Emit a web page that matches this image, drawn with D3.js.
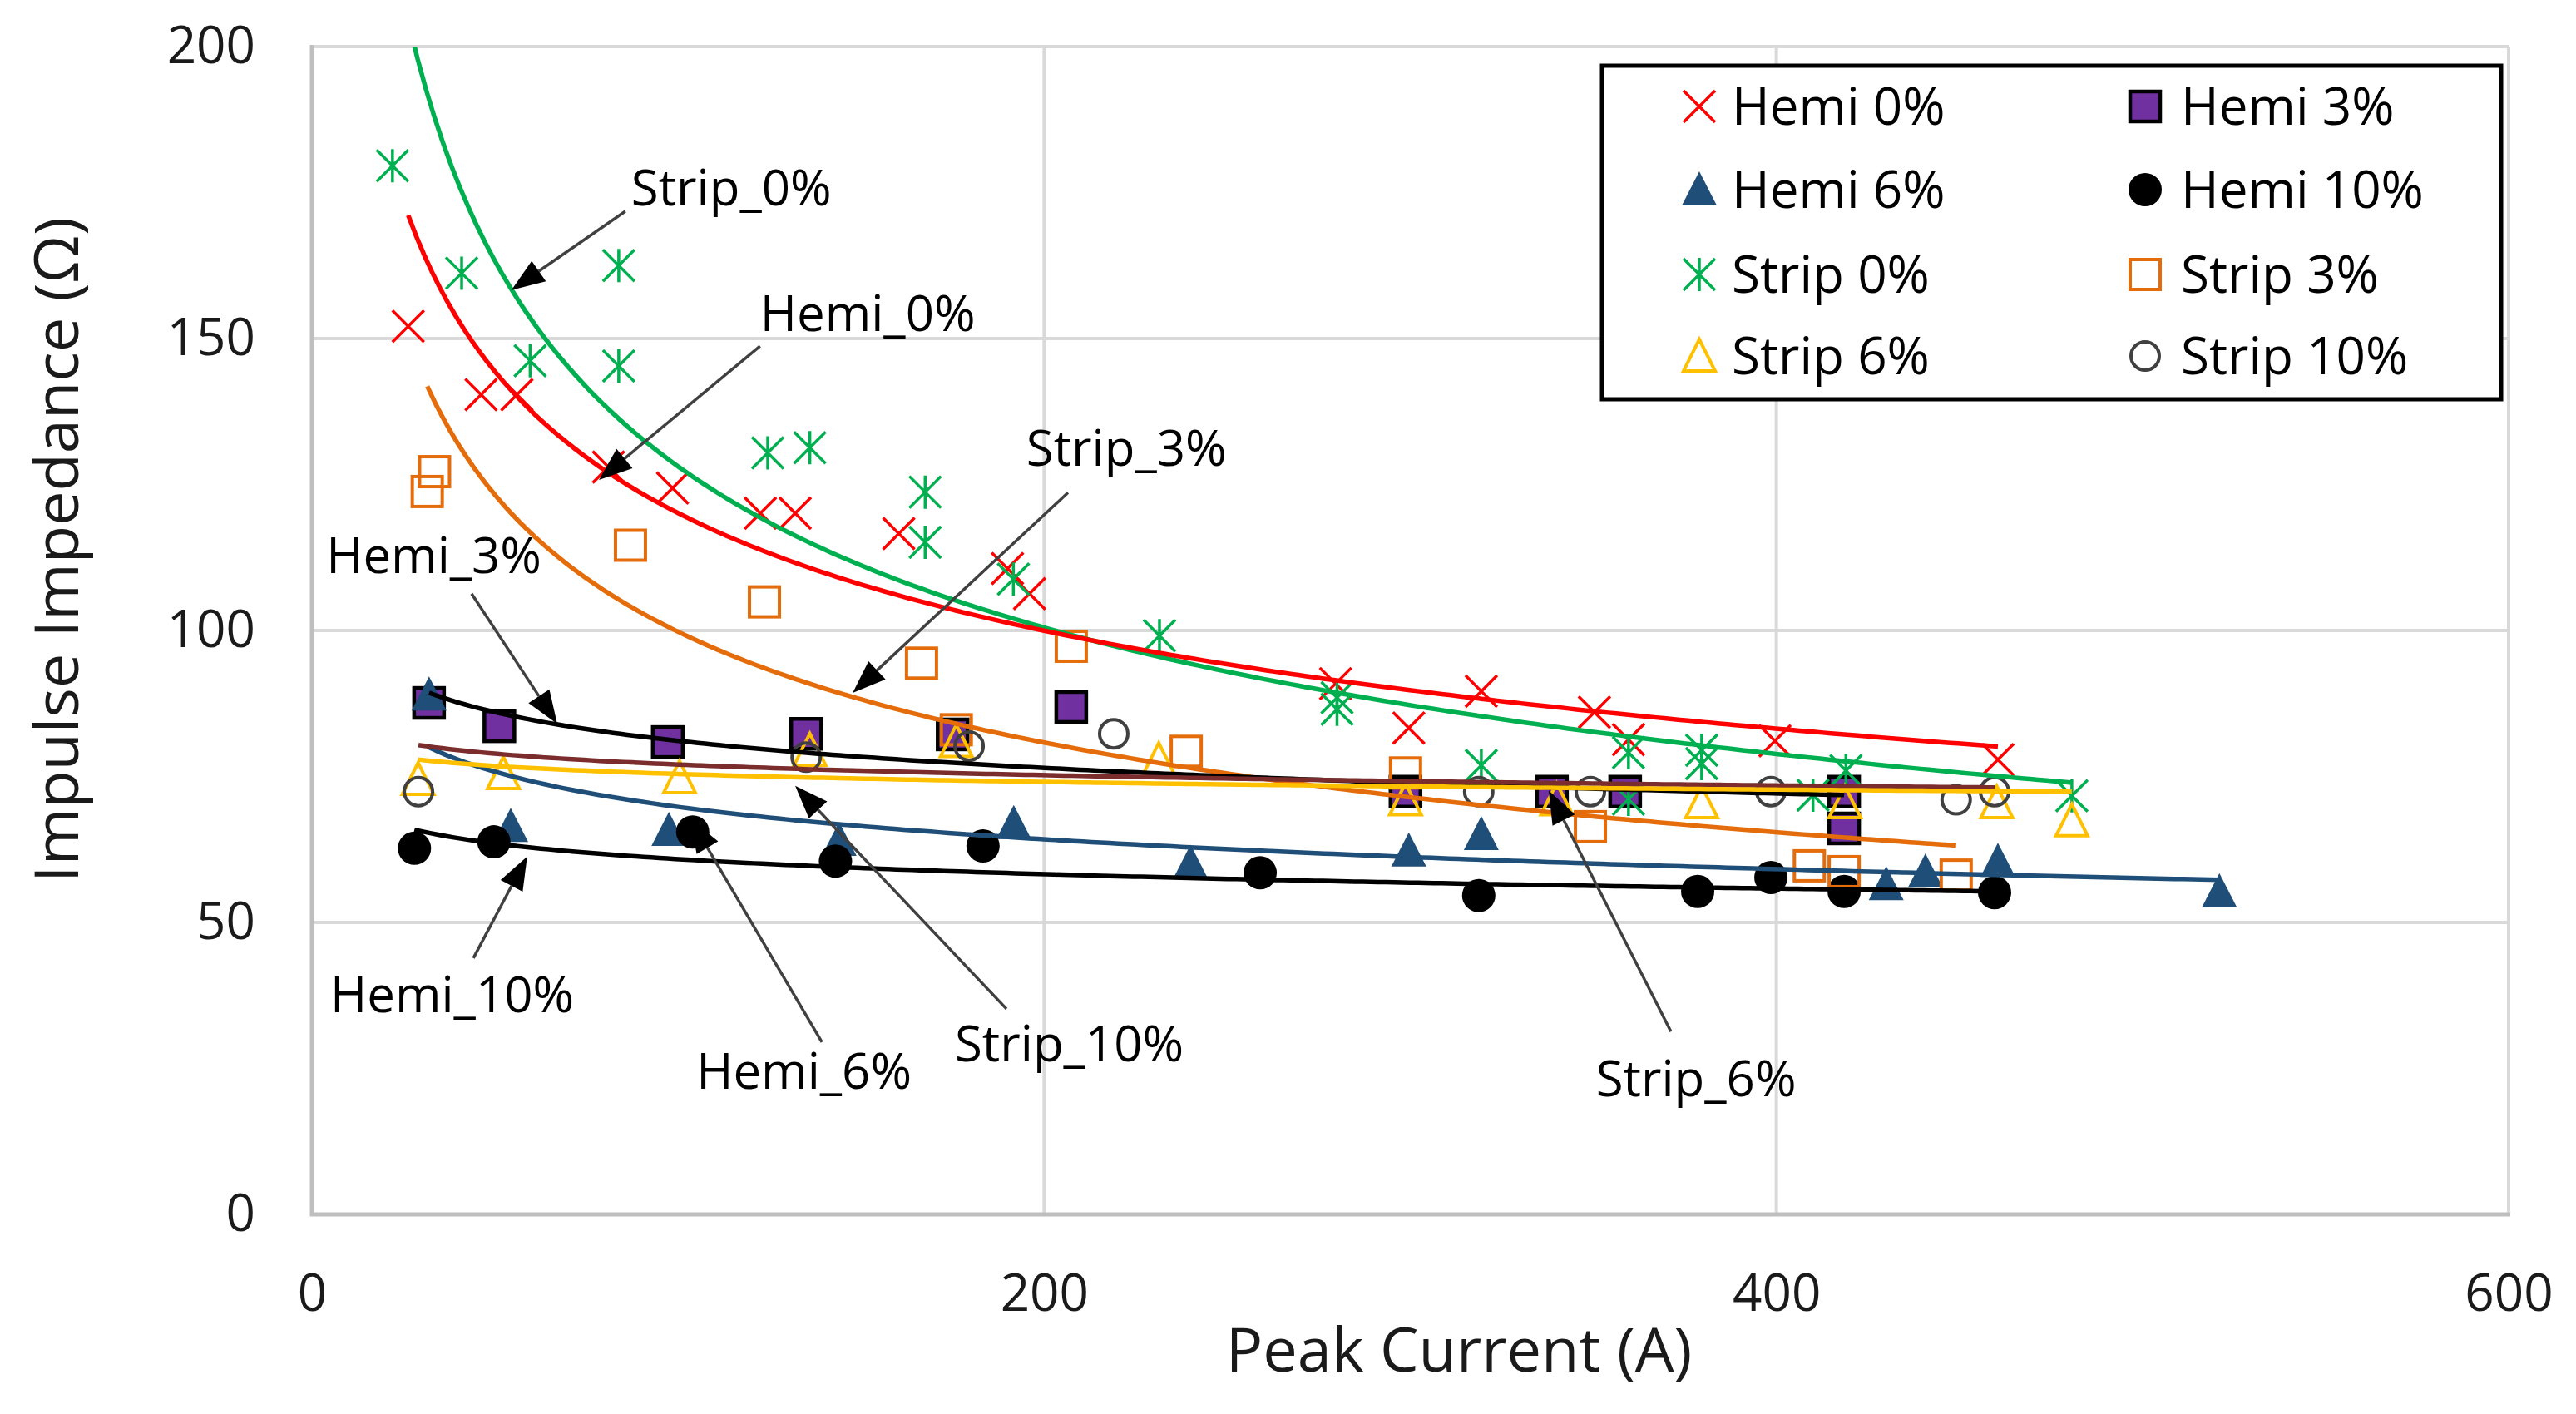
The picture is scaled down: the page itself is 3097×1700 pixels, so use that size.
<!DOCTYPE html>
<html><head><meta charset="utf-8">
<script src="https://cdn.jsdelivr.net/npm/d3@7"></script>
<style>
body{margin:0;background:#fff}
svg{display:block}
text{font-family:"Open Sans",sans-serif}
</style>
</head><body>
<svg id="c" width="3097" height="1700"></svg>
<script>
// ---------------- DATA ----------------
const seriesNames = ["Hemi 0%","Hemi 3%","Hemi 6%","Hemi 10%","Strip 0%","Strip 3%","Strip 6%","Strip 10%"];

const hemi0 = [[26.3,152.1],[46.2,140.4],[56,140.4],[81,128],[98.5,124.4],[122.5,120.1],[132,120.1],[160.3,116.6],[190,110.6],[196,106.3],[279.6,90.9],[299.6,83.3],[319.4,89.6],[350.3,86.0],[359.6,81.3],[399.6,81.1],[460.5,77.9]];
const hemi3 = [[32,87.6],[51.2,83.6],[97.2,80.9],[135,82.3],[175,82.2],[207.4,86.9],[298.7,72.4],[338.7,72.4],[358.7,72.4],[418.5,72.4],[418.5,66.1]];
const hemi6 = [[32,89],[54.3,66.5],[97.5,65.8],[144,64.1],[191.7,67.0],[240,60.2],[299.6,62.3],[319.4,65.1],[430,56.5],[440.7,58.7],[460.5,60.5],[521,55.3]];
const hemi10 = [[28,62.7],[49.7,63.8],[104,65.5],[143,60.5],[183.3,63.1],[259,58.5],[318.7,54.6],[378.5,55.3],[398.5,57.7],[418.5,55.3],[459.6,55.1]];
const strip0 = [[22,179.6],[40.9,161.2],[59.6,146.2],[83.8,162.5],[83.8,145.3],[124.5,130.4],[136,131.3],[167.5,123.7],[167.5,115.1],[191.6,108.8],[231.5,99.1],[280,88.5],[280,86.5],[319.4,76.9],[359.6,79.1],[359.6,71.1],[379.6,79.5],[379.6,77.2],[410,71.8],[419,76],[480.7,71.7]];
const strip3 = [[31.5,123.8],[33.5,127.2],[87,114.6],[123.6,104.9],[166.5,94.4],[176,83],[207.4,97.3],[238.8,79.3],[298.7,75.6],[349.2,66.4],[409,59.7],[418.5,58.7],[449.1,58.1]];
const strip6 = [[29,74.5],[52.3,75.5],[100.4,74.8],[136,79.5],[176,81],[231.3,77.9],[298.7,71],[340,71],[379.6,70.5],[418.7,70.5],[460.2,70.5],[480.7,67.4]];
const strip10 = [[29.1,72.4],[135,78.3],[179.5,80.2],[219,82.3],[318.7,72.4],[349.2,72.4],[398.5,72.4],[449.1,71],[459.6,72.4]];

// power trendline coefficients y = a * x^b
const trendA = [407, 119.9, 121.0, 81.1, 642, 405.2, 85.06, 90.27];
const trendB = [-0.265, -0.0849, -0.1195, -0.0624, -0.350, -0.3043, -0.0261, -0.0344];

const xTicks = [0,200,400,600];
const yTicks = [0,50,100,150,200];

// annotation labels: text, label anchor [x,y], arrow start [x,y], arrow tip [x,y] in data units
const annText  = ["Strip_0%","Hemi_0%","Hemi_3%","Strip_3%","Hemi_10%","Hemi_6%","Strip_10%","Strip_6%"];
const annLabel = [[87.2,172.8],[122.4,151.3],[3.9,109.8],[195.1,128.2],[5,34.6],[105,21.5],[175.6,26.2],[350.7,20.2]];
const annFrom  = [[85.6,171.8],[122.4,148.7],[43.6,106.3],[206.5,123.6],[44.1,43.9],[139.3,29.5],[189.7,35.2],[371.2,31.3]];
const annTo    = [[54.5,158.3],[78.4,125.8],[67,84],[147.7,89.3],[58.8,61.3],[103.4,67.7],[132,73.4],[337.8,72.6]];

// ---------------- STYLE ----------------
const seriesData = [hemi0,hemi3,hemi6,hemi10,strip0,strip3,strip6,strip10];
const markerType = ["x","square","tri","dot","star","osquare","otri","ocircle"];
const markerColor = ["#FF0000","#7030A0","#1F4E79","#000000","#00B050","#E46C0A","#FFC000","#404040"];
const lineColor = ["#FF0000","#000000","#1F4E79","#000000","#00B050","#E46C0A","#FFC000","#7B2C2C"];

const svg = d3.select("#c");
const x = d3.scaleLinear().domain([0,600]).range([375,3016]);
const y = d3.scaleLinear().domain([0,200]).range([1460,56]);

svg.append("defs").append("clipPath").attr("id","plotclip")
  .append("rect").attr("x",x(0)).attr("y",y(200)).attr("width",x(600)-x(0)).attr("height",y(0)-y(200));

// gridlines
const grid = svg.append("g");
grid.selectAll("line.h").data(yTicks.filter(d=>d>0)).join("line")
  .attr("x1",x(0)).attr("x2",x(600)).attr("y1",d=>y(d)).attr("y2",d=>y(d))
  .attr("stroke","#d9d9d9").attr("stroke-width",4);
grid.selectAll("line.v").data(xTicks.filter(d=>d>0)).join("line")
  .attr("y1",y(0)).attr("y2",y(200)).attr("x1",d=>x(d)).attr("x2",d=>x(d))
  .attr("stroke","#d9d9d9").attr("stroke-width",4);
// axis lines
svg.append("line").attr("x1",x(0)).attr("x2",x(0)).attr("y1",y(0)+2).attr("y2",y(200)-2).attr("stroke","#bfbfbf").attr("stroke-width",5);
svg.append("line").attr("x1",x(0)-2).attr("x2",x(600)+2).attr("y1",y(0)).attr("y2",y(0)).attr("stroke","#bfbfbf").attr("stroke-width",5);

// axes (labels only)
const xAxis = svg.append("g").attr("transform",`translate(0,${y(0)})`)
  .call(d3.axisBottom(x).tickValues(xTicks).tickSize(0).tickPadding(72).tickFormat(d3.format("d")));
xAxis.select(".domain").remove();
xAxis.selectAll("text").attr("font-size",62).attr("fill","#1a1a1a").attr("font-family","Open Sans");

const yAxis = svg.append("g").attr("transform",`translate(${x(0)},0)`)
  .call(d3.axisLeft(y).tickValues(yTicks).tickSize(0).tickPadding(68).tickFormat(d3.format("d")));
yAxis.select(".domain").remove();
yAxis.selectAll("text").attr("font-size",62).attr("fill","#1a1a1a").attr("font-family","Open Sans");

// axis titles
svg.append("text").attr("x",1754).attr("y",1649).attr("text-anchor","middle")
  .attr("font-size",74).attr("fill","#1a1a1a").text("Peak Current (A)");
svg.append("text").attr("transform","translate(94,661) rotate(-90)").attr("text-anchor","middle")
  .attr("font-size",74).attr("fill","#1a1a1a").text("Impulse Impedance (Ω)");

// marker drawing
function drawMarker(g, type, color){
  const s = 19;
  if(type==="x"){
    g.append("path").attr("d",`M${-s},${-s}L${s},${s}M${-s},${s}L${s},${-s}`)
     .attr("stroke",color).attr("stroke-width",3.5).attr("fill","none");
  } else if(type==="star"){
    g.append("path").attr("d",`M${-s},${-s}L${s},${s}M${-s},${s}L${s},${-s}M0,${-s-1}L0,${s+1}`)
     .attr("stroke",color).attr("stroke-width",3.5).attr("fill","none");
  } else if(type==="square"){
    g.append("rect").attr("x",-18).attr("y",-18).attr("width",36).attr("height",36)
     .attr("fill",color).attr("stroke","#000").attr("stroke-width",4.5);
  } else if(type==="osquare"){
    g.append("rect").attr("x",-18).attr("y",-18).attr("width",36).attr("height",36)
     .attr("fill","none").attr("stroke",color).attr("stroke-width",4);
  } else if(type==="tri"){
    g.append("path").attr("d","M0,-22L21,19L-21,19Z").attr("fill",color);
  } else if(type==="otri"){
    g.append("path").attr("d","M0,-20L19,18L-19,18Z").attr("fill","none").attr("stroke",color).attr("stroke-width",4);
  } else if(type==="dot"){
    g.append("circle").attr("r",20).attr("fill",color);
  } else if(type==="ocircle"){
    g.append("circle").attr("r",17).attr("fill","none").attr("stroke",color).attr("stroke-width",4);
  }
}

// markers
const markG = svg.append("g");
seriesData.forEach((data,i)=>{
  const sg = markG.append("g");
  data.forEach(d=>{
    const g = sg.append("g").attr("transform",`translate(${x(d[0])},${y(d[1])})`);
    drawMarker(g, markerType[i], markerColor[i]);
  });
});

// trendlines (power fits) over each series x-extent
const lineGen = d3.line().x(d=>x(d[0])).y(d=>y(d[1]));
const trendG = svg.append("g").attr("clip-path","url(#plotclip)");
const trendOrder = [5,1,3,2,7,6,4,0];
trendOrder.forEach(i=>{
  const [x0,x1] = d3.extent(seriesData[i], d=>d[0]);
  const pts = d3.range(0,201).map(k=>{
    const xv = x0 + (x1-x0)*k/200;
    return [xv, trendA[i]*Math.pow(xv,trendB[i])];
  });
  trendG.append("path").attr("d",lineGen(pts)).attr("fill","none")
    .attr("stroke",lineColor[i]).attr("stroke-width",5.5);
});

// annotations
const annG = svg.append("g");
annText.forEach((t,i)=>{
  const fx = x(annFrom[i][0]), fy = y(annFrom[i][1]);
  const tx = x(annTo[i][0]), ty = y(annTo[i][1]);
  const ang = Math.atan2(ty-fy, tx-fx);
  const L = 40, W = 15;
  const bx = tx - L*Math.cos(ang), by = ty - L*Math.sin(ang);
  annG.append("line").attr("x1",fx).attr("y1",fy).attr("x2",bx).attr("y2",by)
    .attr("stroke","#404040").attr("stroke-width",3.5);
  const px = -Math.sin(ang), py = Math.cos(ang);
  annG.append("path")
    .attr("d",`M${tx},${ty}L${bx+W*px},${by+W*py}L${bx-W*px},${by-W*py}Z`)
    .attr("fill","#000");
  annG.append("text").attr("x",x(annLabel[i][0])).attr("y",y(annLabel[i][1]))
    .attr("font-size",60).attr("fill","#000").text(t);
});

// legend
const leg = svg.append("g");
leg.append("rect").attr("x",1926).attr("y",79).attr("width",1081).attr("height",401)
  .attr("fill","#fff").attr("stroke","#000").attr("stroke-width",5);
const legOrder = [0,1,2,3,4,5,6,7];
const colX = [2043,2579], textX = [2082,2622], rowY = [128,228,330,428];
legOrder.forEach((si,k)=>{
  const c = k%2, r = Math.floor(k/2);
  const g = leg.append("g").attr("transform",`translate(${colX[c]},${rowY[r]})`);
  drawMarker(g, markerType[si], markerColor[si]);
  leg.append("text").attr("x",textX[c]).attr("y",rowY[r]).attr("dy","0.36em")
    .attr("font-size",62).attr("fill","#000").text(seriesNames[si]);
});
</script>
</body></html>
